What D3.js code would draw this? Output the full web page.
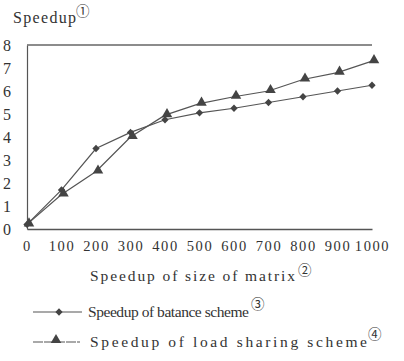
<!DOCTYPE html>
<html>
<head>
<meta charset="utf-8">
<script src="https://cdn.jsdelivr.net/npm/d3@7/dist/d3.min.js"></script>
<style>
  body { margin: 0; background: #fff; }
  text { fill: #333; }
</style>
</head>
<body>
<script>
// matrix sizes and speedups
let sizes = [0, 100, 200, 300, 400, 500, 600, 700, 800, 900, 1000];
let balance = [0.2, 1.7, 3.5, 4.2, 4.75, 5.05, 5.25, 5.5, 5.75, 6.0, 6.25];
let sharing = [0.2, 1.5, 2.5, 4.0, 4.95, 5.45, 5.75, 6.0, 6.5, 6.8, 7.3];
let yTicks = [0, 1, 2, 3, 4, 5, 6, 7, 8];
let xTicks = [0, 100, 200, 300, 400, 500, 600, 700, 800, 900, 1000];

let W = 404, H = 361;
let plotL = 27, plotR = 372, plotT = 45, plotB = 229;
let ink = '#444';
let serif = '"Liberation Serif", "DejaVu Serif", "Noto Serif", "Times New Roman", serif';

let svg = d3.select('body')
    .append('svg')
        .attr('width', W)
        .attr('height', H);

let x = d3.scaleLinear().domain([0, 1000]).range([plotL, plotR]);
let y = d3.scaleLinear().domain([0, 8]).range([plotB, plotT]);

// axes
let gx = svg.append('g')
    .attr('transform', 'translate(0,' + plotB + ')')
    .call(d3.axisBottom(x).tickValues(xTicks).tickSize(0).tickPadding(12).tickFormat(d3.format('d')));
gx.selectAll('text')
    .style('font-family', serif)
    .attr('font-size', 14.5)
    .attr('letter-spacing', 1.6)
    .attr('fill', '#333');
gx.select('.domain').attr('stroke', '#555').attr('stroke-width', 1.3);

let gy = svg.append('g')
    .attr('transform', 'translate(' + plotL + ',0)')
    .call(d3.axisLeft(y).tickValues(yTicks).tickSize(0));
gy.selectAll('text')
    .style('font-family', serif)
    .attr('font-size', 16)
    .attr('text-anchor', 'middle')
    .attr('x', 7 - plotL)
    .attr('fill', '#333');
gy.select('.domain').attr('stroke', '#555').attr('stroke-width', 1.2);

// top border line
svg.append('line')
    .attr('x1', x(0)).attr('x2', x(1000))
    .attr('y1', y(8)).attr('y2', y(8))
    .attr('stroke', '#666')
    .attr('stroke-width', 1.3);

let line = d3.line()
    .x((d, i) => x(sizes[i]))
    .y(d => y(d));

function diamond(sel, cx, cy) {
    sel.append('path')
        .attr('d', d3.symbol().type(d3.symbolDiamond2).size(34)())
        .attr('transform', 'translate(' + cx + ',' + cy + ')')
        .attr('fill', ink);
}

function triangle(sel, cx, cy) {
    sel.append('path')
        .attr('d', d3.symbol().type(d3.symbolTriangle).size(48)())
        .attr('transform', 'translate(' + cx + ',' + (cy - 1) + ')')
        .attr('fill', ink);
}

svg.append('path')
    .datum(sharing)
    .attr('d', line)
    .attr('fill', 'none')
    .attr('stroke', '#555')
    .attr('stroke-width', 1.2);
svg.append('path')
    .datum(balance)
    .attr('d', line)
    .attr('fill', 'none')
    .attr('stroke', '#555')
    .attr('stroke-width', 1.2);

balance.forEach((v, i) => diamond(svg, x(sizes[i]), y(v)));
sharing.forEach((v, i) => triangle(svg, x(sizes[i]) + 2, y(v)));

function label(tx, ty, str, len, size) {
    svg.append('text')
        .attr('x', tx).attr('y', ty)
        .style('font-family', serif)
        .attr('font-size', size)
        .attr('textLength', len)
        .attr('lengthAdjust', 'spacing')
        .text(str);
}

function circled(tx, ty, str) {
    svg.append('text')
        .attr('x', tx).attr('y', ty)
        .style('font-family', '"Noto Sans CJK SC"')
        .attr('font-size', 13.5)
        .text(str);
}

// title
label(13, 23, 'Speedup', 63, 16);
circled(76, 16, '①');

// x title
label(90, 281, 'Speedup of size of matrix', 205, 15.5);
circled(298, 275, '②');

// legend
svg.append('line').attr('x1', 33).attr('x2', 82).attr('y1', 312).attr('y2', 312)
    .attr('stroke', '#555').attr('stroke-width', 1.1);
diamond(svg, 59, 312);
label(88, 317, 'Speedup of batance scheme', 161, 15.5);
circled(251, 309, '③');

svg.append('line').attr('x1', 33).attr('x2', 80).attr('y1', 342).attr('y2', 342)
    .attr('stroke', '#555').attr('stroke-width', 1.1).attr('stroke-dasharray', '10,1');
triangle(svg, 56, 341);
label(90, 347, 'Speedup of load sharing scheme', 277, 15.5);
circled(368, 339, '④');
</script>
</body>
</html>
